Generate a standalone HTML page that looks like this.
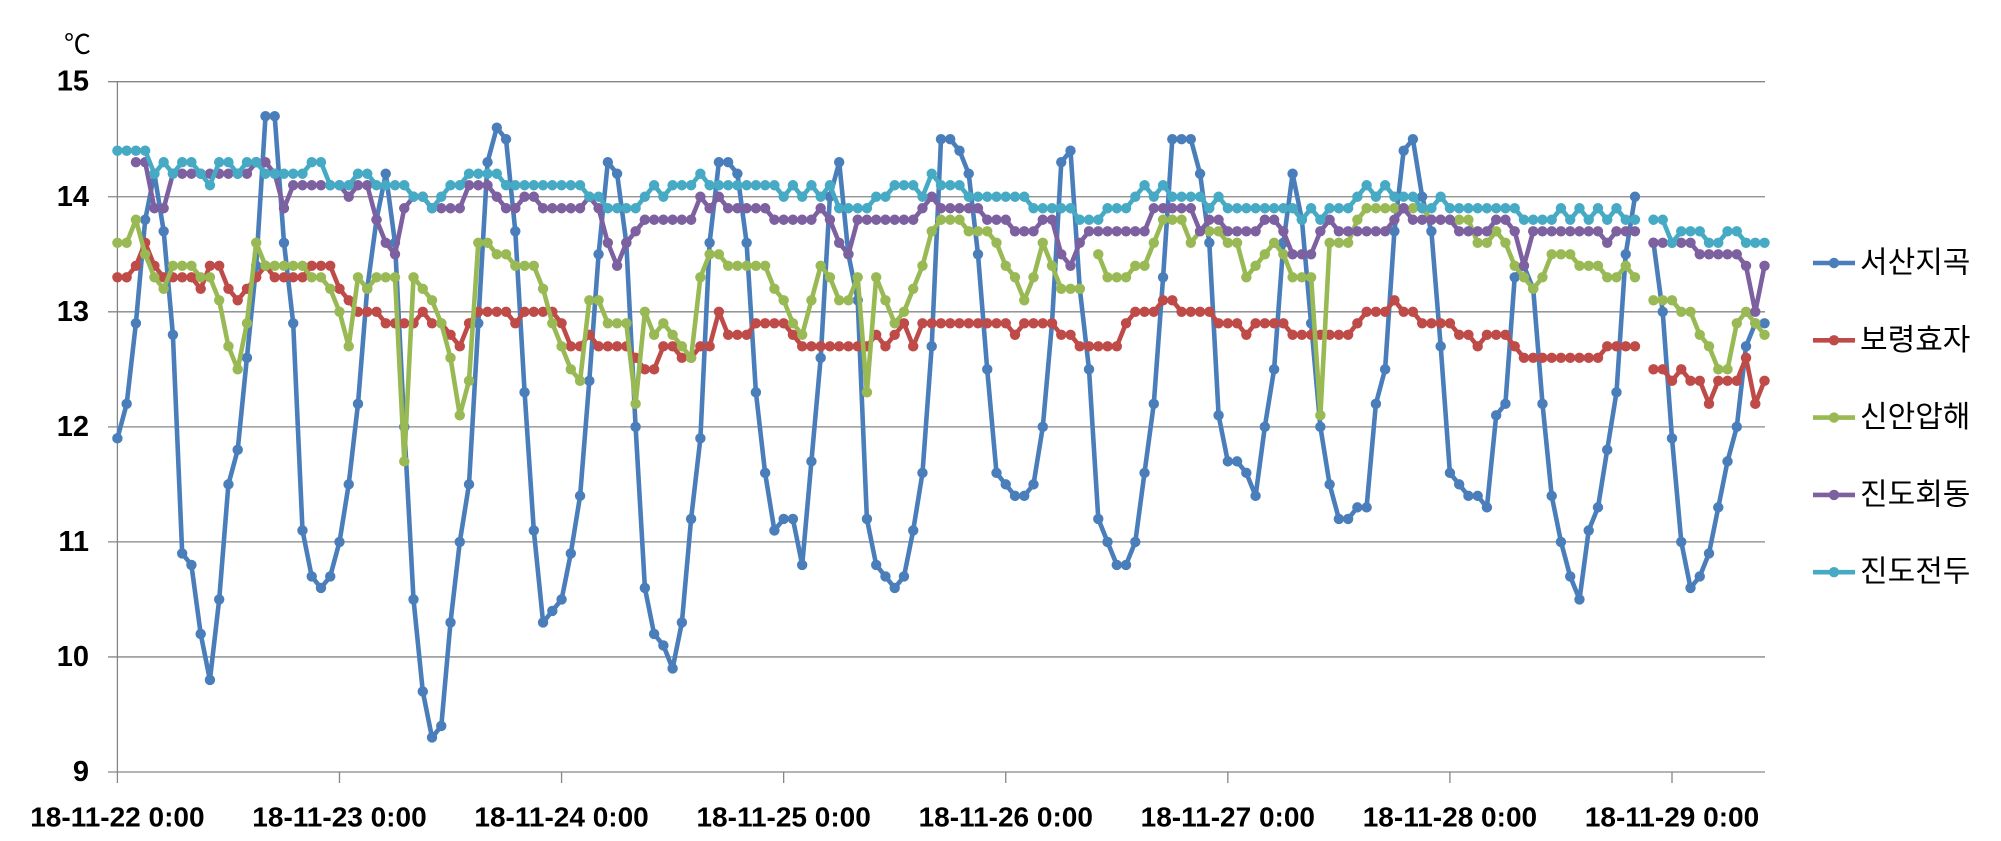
<!DOCTYPE html>
<html><head><meta charset="utf-8"><style>
html,body{margin:0;padding:0;background:#fff;}
svg{display:block;}
</style></head><body>
<svg id="chart" width="2001" height="841" viewBox="0 0 2001 841" xmlns="http://www.w3.org/2000/svg"></svg>
<script>
const seriesNames = ["서산지곡","보령효자","신안압해","진도회동","진도전두"];
const seriesColors = ["#4a7ebb","#be4b48","#98b954","#7d60a0","#46aac5"];
const xTickLabels = ["18-11-22 0:00","18-11-23 0:00","18-11-24 0:00","18-11-25 0:00","18-11-26 0:00","18-11-27 0:00","18-11-28 0:00","18-11-29 0:00"];
const yTicks = [9,10,11,12,13,14,15];
const N = null;
const seosan = [
11.9,12.2,12.9,13.8,14.2,13.7,12.8,10.9,10.8,10.2,9.8,10.5,11.5,11.8,12.6,13.4,14.7,14.7,13.6,12.9,11.1,10.7,10.6,10.7,
11.0,11.5,12.2,13.2,13.8,14.2,13.6,12.0,10.5,9.7,9.3,9.4,10.3,11.0,11.5,12.9,14.3,14.6,14.5,13.7,12.3,11.1,10.3,10.4,
10.5,10.9,11.4,12.4,13.5,14.3,14.2,13.6,12.0,10.6,10.2,10.1,9.9,10.3,11.2,11.9,13.6,14.3,14.3,14.2,13.6,12.3,11.6,11.1,
11.2,11.2,10.8,11.7,12.6,14.0,14.3,13.5,13.1,11.2,10.8,10.7,10.6,10.7,11.1,11.6,12.7,14.5,14.5,14.4,14.2,13.5,12.5,11.6,
11.5,11.4,11.4,11.5,12.0,12.9,14.3,14.4,13.2,12.5,11.2,11.0,10.8,10.8,11.0,11.6,12.2,13.3,14.5,14.5,14.5,14.2,13.6,12.1,
11.7,11.7,11.6,11.4,12.0,12.5,13.6,14.2,13.8,12.9,12.0,11.5,11.2,11.2,11.3,11.3,12.2,12.5,13.7,14.4,14.5,14.0,13.7,12.7,
11.6,11.5,11.4,11.4,11.3,12.1,12.2,13.3,13.4,13.2,12.2,11.4,11.0,10.7,10.5,11.1,11.3,11.8,12.3,13.5,14.0,N,13.6,13.0,
11.9,11.0,10.6,10.7,10.9,11.3,11.7,12.0,12.7,12.9,12.9];
const boryeong = [
13.3,13.3,13.4,13.6,13.4,13.3,13.3,13.3,13.3,13.2,13.4,13.4,13.2,13.1,13.2,13.3,13.4,13.3,13.3,13.3,13.3,13.4,13.4,13.4,
13.2,13.1,13.0,13.0,13.0,12.9,12.9,12.9,12.9,13.0,12.9,12.9,12.8,12.7,12.9,13.0,13.0,13.0,13.0,12.9,13.0,13.0,13.0,13.0,
12.9,12.7,12.7,12.8,12.7,12.7,12.7,12.7,12.6,12.5,12.5,12.7,12.7,12.6,12.6,12.7,12.7,13.0,12.8,12.8,12.8,12.9,12.9,12.9,
12.9,12.8,12.7,12.7,12.7,12.7,12.7,12.7,12.7,12.7,12.8,12.7,12.8,12.9,12.7,12.9,12.9,12.9,12.9,12.9,12.9,12.9,12.9,12.9,
12.9,12.8,12.9,12.9,12.9,12.9,12.8,12.8,12.7,12.7,12.7,12.7,12.7,12.9,13.0,13.0,13.0,13.1,13.1,13.0,13.0,13.0,13.0,12.9,
12.9,12.9,12.8,12.9,12.9,12.9,12.9,12.8,12.8,12.8,12.8,12.8,12.8,12.8,12.9,13.0,13.0,13.0,13.1,13.0,13.0,12.9,12.9,12.9,
12.9,12.8,12.8,12.7,12.8,12.8,12.8,12.7,12.6,12.6,12.6,12.6,12.6,12.6,12.6,12.6,12.6,12.7,12.7,12.7,12.7,N,12.5,12.5,
12.4,12.5,12.4,12.4,12.2,12.4,12.4,12.4,12.6,12.2,12.4];
const sinan = [
13.6,13.6,13.8,13.5,13.3,13.2,13.4,13.4,13.4,13.3,13.3,13.1,12.7,12.5,12.9,13.6,13.4,13.4,13.4,13.4,13.4,13.3,13.3,13.2,
13.0,12.7,13.3,13.2,13.3,13.3,13.3,11.7,13.3,13.2,13.1,12.9,12.6,12.1,12.4,13.6,13.6,13.5,13.5,13.4,13.4,13.4,13.2,12.9,
12.7,12.5,12.4,13.1,13.1,12.9,12.9,12.9,12.2,13.0,12.8,12.9,12.8,12.7,12.6,13.3,13.5,13.5,13.4,13.4,13.4,13.4,13.4,13.2,
13.1,12.9,12.8,13.1,13.4,13.3,13.1,13.1,13.3,12.3,13.3,13.1,12.9,13.0,13.2,13.4,13.7,13.8,13.8,13.8,13.7,13.7,13.7,13.6,
13.4,13.3,13.1,13.3,13.6,13.4,13.2,13.2,13.2,N,13.5,13.3,13.3,13.3,13.4,13.4,13.6,13.8,13.8,13.8,13.6,13.7,13.7,13.7,
13.6,13.6,13.3,13.4,13.5,13.6,13.5,13.3,13.3,13.3,12.1,13.6,13.6,13.6,13.8,13.9,13.9,13.9,13.9,13.9,13.9,13.9,13.8,13.8,
13.8,13.8,13.8,13.6,13.6,13.7,13.6,13.4,13.3,13.2,13.3,13.5,13.5,13.5,13.4,13.4,13.4,13.3,13.3,13.4,13.3,N,13.1,13.1,
13.1,13.0,13.0,12.8,12.7,12.5,12.5,12.9,13.0,12.9,12.8];
const jindoHoedong = [
N,N,14.3,14.3,13.9,13.9,14.2,14.2,14.2,14.2,14.2,14.2,14.2,14.2,14.2,14.3,14.3,14.2,13.9,14.1,14.1,14.1,14.1,14.1,
14.1,14.0,14.1,14.1,13.8,13.6,13.5,13.9,14.0,14.0,13.9,13.9,13.9,13.9,14.1,14.1,14.1,14.0,13.9,13.9,14.0,14.0,13.9,13.9,
13.9,13.9,13.9,14.0,13.9,13.6,13.4,13.6,13.7,13.8,13.8,13.8,13.8,13.8,13.8,14.0,13.9,14.0,13.9,13.9,13.9,13.9,13.9,13.8,
13.8,13.8,13.8,13.8,13.9,13.8,13.6,13.5,13.8,13.8,13.8,13.8,13.8,13.8,13.8,13.9,14.0,13.9,13.9,13.9,13.9,13.9,13.8,13.8,
13.8,13.7,13.7,13.7,13.8,13.8,13.5,13.4,13.6,13.7,13.7,13.7,13.7,13.7,13.7,13.7,13.9,13.9,13.9,13.9,13.9,13.7,13.8,13.8,
13.7,13.7,13.7,13.7,13.8,13.8,13.7,13.5,13.5,13.5,13.7,13.8,13.7,13.7,13.7,13.7,13.7,13.7,13.8,13.9,13.8,13.8,13.8,13.8,
13.8,13.7,13.7,13.7,13.7,13.8,13.8,13.7,13.4,13.7,13.7,13.7,13.7,13.7,13.7,13.7,13.7,13.6,13.7,13.7,13.7,N,13.6,13.6,
13.6,13.6,13.6,13.5,13.5,13.5,13.5,13.5,13.4,13.0,13.4];
const jindoJeondu = [
14.4,14.4,14.4,14.4,14.2,14.3,14.2,14.3,14.3,14.2,14.1,14.3,14.3,14.2,14.3,14.3,14.2,14.2,14.2,14.2,14.2,14.3,14.3,14.1,
14.1,14.1,14.2,14.2,14.1,14.1,14.1,14.1,14.0,14.0,13.9,14.0,14.1,14.1,14.2,14.2,14.2,14.2,14.1,14.1,14.1,14.1,14.1,14.1,
14.1,14.1,14.1,14.0,14.0,13.9,13.9,13.9,13.9,14.0,14.1,14.0,14.1,14.1,14.1,14.2,14.1,14.1,14.1,14.1,14.1,14.1,14.1,14.1,
14.0,14.1,14.0,14.1,14.0,14.1,13.9,13.9,13.9,13.9,14.0,14.0,14.1,14.1,14.1,14.0,14.2,14.1,14.1,14.1,14.0,14.0,14.0,14.0,
14.0,14.0,14.0,13.9,13.9,13.9,13.9,13.9,13.8,13.8,13.8,13.9,13.9,13.9,14.0,14.1,14.0,14.1,14.0,14.0,14.0,14.0,13.9,14.0,
13.9,13.9,13.9,13.9,13.9,13.9,13.9,13.9,13.8,13.9,13.8,13.9,13.9,13.9,14.0,14.1,14.0,14.1,14.0,14.0,14.0,13.9,13.9,14.0,
13.9,13.9,13.9,13.9,13.9,13.9,13.9,13.9,13.8,13.8,13.8,13.8,13.9,13.8,13.9,13.8,13.9,13.8,13.9,13.8,13.8,N,13.8,13.8,
13.6,13.7,13.7,13.7,13.6,13.6,13.7,13.7,13.6,13.6,13.6];
const seriesData = [seosan, boryeong, sinan, jindoHoedong, jindoJeondu];
const seriesKeys = ["seosan-jigok","boryeong-hyoja","sinan-aphae","jindo-hoedong","jindo-jeondu"];

const NS = "http://www.w3.org/2000/svg";
const svg = document.getElementById("chart");
const L = 117.4, R = 1765, T = 81.7, B = 772;
const yMin = 9, yMax = 15;
const hourW = (1672 - 117.4) / (7 * 24);
function xScale(i){ return L + i * hourW; }
function yScale(v){ return B - (v - yMin) / (yMax - yMin) * (B - T); }
function mk(tag, attrs, parent){
  const e = document.createElementNS(NS, tag);
  for (const k in attrs) e.setAttribute(k, attrs[k]);
  (parent || svg).appendChild(e);
  return e;
}
const FONT = '"Liberation Sans","Noto Sans CJK KR",sans-serif';

yTicks.forEach(v => {
  const y = yScale(v);
  const g = mk("line", {x1:108, x2:R, y1:y, y2:y, stroke:"#868686", "stroke-width":1.3});
  
  
  const t = mk("text", {x:89, y:y, "text-anchor":"end", "dominant-baseline":"central", "font-family":FONT, "font-weight":"bold", "font-size":29, fill:"#000"});
  t.textContent = v;
  
  
});
const ya = mk("line", {x1:L, x2:L, y1:T, y2:B, stroke:"#868686", "stroke-width":1.3});


xTickLabels.forEach((lab, d) => {
  const x = xScale(d * 24);
  const tk = mk("line", {x1:x, x2:x, y1:B, y2:B+11, stroke:"#868686", "stroke-width":1.3});
  
  
  const t = mk("text", {x:x, y:817, "text-anchor":"middle", "dominant-baseline":"central", "font-family":FONT, "font-weight":"bold", "font-size":28, fill:"#000"});
  t.textContent = lab;
  
  
});
const unit = mk("text", {x:64, y:45, "dominant-baseline":"central", "font-family":FONT, "font-size":27, fill:"#000"});
unit.textContent = "℃";



seriesData.forEach((arr, s) => {
  const g = mk("g", {});
  
  
  let d = "", pen = false;
  arr.forEach((v, i) => {
    if (v === null) { pen = false; return; }
    d += (pen ? "L" : "M") + xScale(i).toFixed(1) + " " + yScale(v).toFixed(1);
    pen = true;
  });
  const p = mk("path", {d:d, fill:"none", stroke:seriesColors[s], "stroke-width":4.6, "stroke-linejoin":"round"}, g);
  
  
  arr.forEach((v, i) => {
    if (v === null) return;
    const c = mk("circle", {cx:xScale(i), cy:yScale(v), r:5.2, fill:seriesColors[s]}, g);
    
    
  });
});

seriesNames.forEach((name, s) => {
  const y = 263 + s * 77.3;
  const g = mk("g", {});
  
  
  mk("line", {x1:1813, x2:1855, y1:y, y2:y, stroke:seriesColors[s], "stroke-width":4.6}, g);
  mk("circle", {cx:1834, cy:y, r:5.2, fill:seriesColors[s]}, g);
  const t = mk("text", {x:1860, y:y, "dominant-baseline":"central", "font-family":FONT, "font-size":30, fill:"#000"}, g);
  t.textContent = name;
});
</script>
</body></html>
